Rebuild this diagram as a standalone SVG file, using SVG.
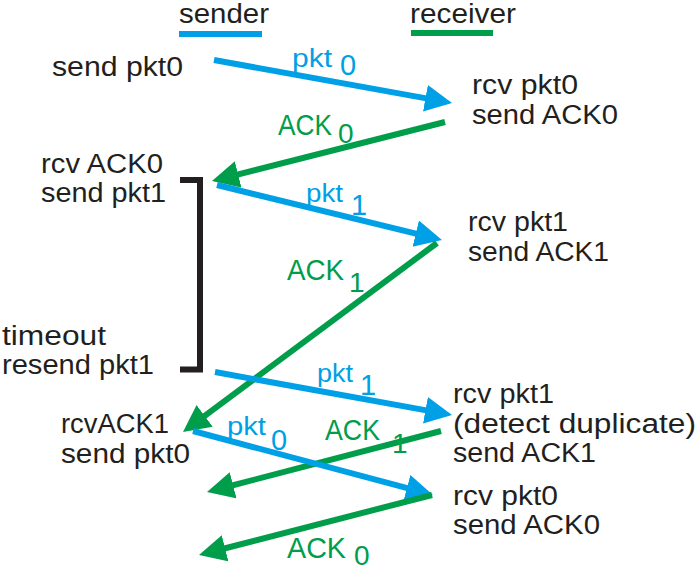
<svg xmlns="http://www.w3.org/2000/svg" width="698" height="570" viewBox="0 0 698 570">
<style>
text{font-family:"Liberation Sans",Arial,sans-serif;}
.t{font-size:27px;fill:#231F20;}
.lb{font-size:26px;fill:#00A0E6;}
.lg{font-size:29px;fill:#009D4A;}
.sb{font-size:29px;fill:#00A0E6;}
.sg{font-size:28px;fill:#009D4A;}
.ab{stroke:#00A0E6;stroke-width:6;fill:none;marker-end:url(#hb);}
.ag{stroke:#009D4A;stroke-width:6;fill:none;marker-end:url(#hg);}
</style>
<defs>
<marker id="hb" markerUnits="userSpaceOnUse" markerWidth="28" markerHeight="28" refX="15" refY="13.5" orient="auto" viewBox="0 0 28 28"><path d="M0,0 L27,13.5 L0,27 z" fill="#00A0E6"/></marker>
<marker id="hg" markerUnits="userSpaceOnUse" markerWidth="28" markerHeight="28" refX="15" refY="13.5" orient="auto" viewBox="0 0 28 28"><path d="M0,0 L27,13.5 L0,27 z" fill="#009D4A"/></marker>
</defs>
<rect width="698" height="570" fill="#fff"/>
<g id="sender-header">
<text class="t" x="179" y="23" textLength="90" lengthAdjust="spacingAndGlyphs">sender</text>
<rect x="179" y="31" width="83" height="6" fill="#00A0E6"/>
</g>
<g id="receiver-header">
<text class="t" x="410" y="23" textLength="106" lengthAdjust="spacingAndGlyphs">receiver</text>
<rect x="411" y="30" width="82" height="6" fill="#009D4A"/>
</g>
<g id="s-send-pkt0"><text class="t" x="52" y="76" textLength="131" lengthAdjust="spacingAndGlyphs">send pkt0</text></g>
<g id="r-rcv-pkt0">
<text class="t" x="472" y="94" textLength="106" lengthAdjust="spacingAndGlyphs">rcv pkt0</text>
<text class="t" x="472" y="124" textLength="146" lengthAdjust="spacingAndGlyphs">send ACK0</text>
</g>
<g id="s-rcv-ack0">
<text class="t" x="41" y="173" textLength="122" lengthAdjust="spacingAndGlyphs">rcv ACK0</text>
<text class="t" x="41" y="202" textLength="125" lengthAdjust="spacingAndGlyphs">send pkt1</text>
</g>
<g id="r-rcv-pkt1">
<text class="t" x="468" y="231" textLength="100" lengthAdjust="spacingAndGlyphs">rcv pkt1</text>
<text class="t" x="468" y="261" textLength="141" lengthAdjust="spacingAndGlyphs">send ACK1</text>
</g>
<g id="s-timeout">
<text class="t" x="2" y="345" textLength="104" lengthAdjust="spacingAndGlyphs">timeout</text>
<text class="t" x="2" y="374" textLength="152" lengthAdjust="spacingAndGlyphs">resend pkt1</text>
</g>
<g id="timeout-bracket"><path d="M180,180 H200 V369.5 H180" fill="none" stroke="#231F20" stroke-width="6"/></g>
<g id="s-rcv-ack1">
<text class="t" x="61" y="433" textLength="108" lengthAdjust="spacingAndGlyphs">rcvACK1</text>
<text class="t" x="61" y="463" textLength="129" lengthAdjust="spacingAndGlyphs">send pkt0</text>
</g>
<g id="r-dup-pkt1">
<text class="t" x="453" y="403" textLength="101" lengthAdjust="spacingAndGlyphs">rcv pkt1</text>
<text class="t" x="453" y="433" textLength="243" lengthAdjust="spacingAndGlyphs">(detect duplicate)</text>
<text class="t" x="453" y="462" textLength="143" lengthAdjust="spacingAndGlyphs">send ACK1</text>
</g>
<g id="r-rcv-pkt0-2">
<text class="t" x="453" y="505" textLength="105" lengthAdjust="spacingAndGlyphs">rcv pkt0</text>
<text class="t" x="453" y="534" textLength="147" lengthAdjust="spacingAndGlyphs">send ACK0</text>
</g>
<g id="connectors">
<line class="ab" x1="214" y1="60" x2="440.2" y2="100.9"/>
<line class="ag" x1="445" y1="122" x2="223.6" y2="178.1"/>
<line class="ab" x1="217" y1="185" x2="430.3" y2="237.2"/>
<line class="ag" x1="437" y1="243" x2="192.6" y2="424.8"/>
<line class="ab" x1="215" y1="372" x2="440.2" y2="412.9"/>
<line class="ag" x1="441" y1="431" x2="218.6" y2="489"/>
<line class="ab" x1="193" y1="431" x2="421.4" y2="491.9"/>
<line class="ag" x1="432" y1="495" x2="210.6" y2="552"/>
<g id="labels">
<text class="lb" x="292" y="67" textLength="40" lengthAdjust="spacingAndGlyphs">pkt</text><text class="sb" x="340" y="75">0</text>
<text class="lg" x="278" y="135" textLength="54" lengthAdjust="spacingAndGlyphs">ACK</text><text class="sg" x="338" y="143">0</text>
<text class="lb" x="306" y="202" textLength="37" lengthAdjust="spacingAndGlyphs">pkt</text><text class="sb" x="351" y="215">1</text>
<text class="lg" x="287" y="280" textLength="57" lengthAdjust="spacingAndGlyphs">ACK</text><text class="sg" x="349" y="292">1</text>
<text class="lb" x="317" y="382" textLength="36" lengthAdjust="spacingAndGlyphs">pkt</text><text class="sb" x="360" y="395">1</text>
<text class="lb" x="227" y="435" textLength="39" lengthAdjust="spacingAndGlyphs">pkt</text><text class="sb" x="271" y="450">0</text>
<text class="lg" x="325" y="440" textLength="55" lengthAdjust="spacingAndGlyphs">ACK</text><text class="sg" x="392" y="453">1</text>
<text class="lg" x="287" y="558" textLength="59" lengthAdjust="spacingAndGlyphs">ACK</text><text class="sg" x="354" y="565">0</text>
</g>
</g>
</svg>
